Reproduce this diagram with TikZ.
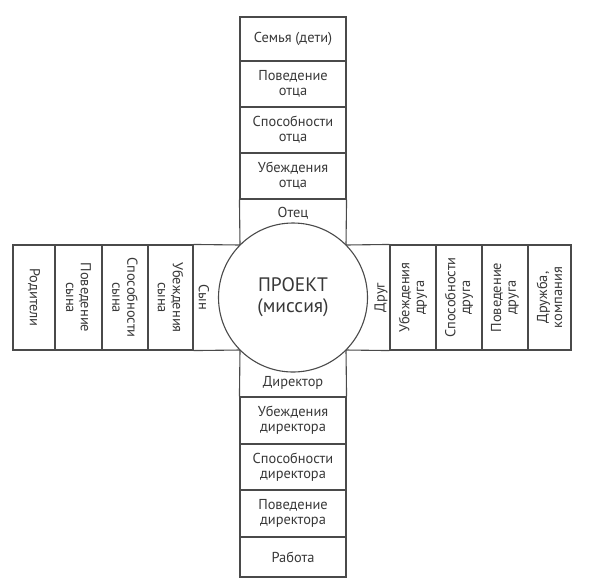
\documentclass[tikz,border=0pt]{standalone}
\usepackage{fontspec}
\setmainfont{PT Sans}
\definecolor{lc}{HTML}{4A4A4A}
\definecolor{tc}{HTML}{383838}
\begin{document}
\begin{tikzpicture}[x=1pt,y=-1pt,line width=1.1pt,
  lbl/.style={text=tc,font=\fontsize{14.4}{14.8}\selectfont,align=center,inner sep=0pt},
  cell/.style={lbl,draw=lc,line width=1.1pt},
  edge/.style={draw=lc,line width=1.1pt}]
\useasboundingbox (0,0) rectangle (591,582);
% top column
\node[cell,minimum width=106pt,minimum height=44pt] (fam) at (293,39) {Семья (дети)};
\node[cell,minimum width=106pt,minimum height=46pt] (povO) at (293,84) {Поведение\\отца};
\node[cell,minimum width=106pt,minimum height=46pt] (spO) at (293,130) {Способности\\отца};
\node[cell,minimum width=106pt,minimum height=46pt] (ubO) at (293,176) {Убеждения\\отца};
\node[lbl] (otec) at (293,213) {Отец};
% left arm
\node[cell,rotate=-90,minimum width=105pt,minimum height=42pt] (rod) at (34,297.5) {Родители};
\node[cell,rotate=-90,minimum width=105pt,minimum height=47pt] (povS) at (78.5,297.5) {Поведение\\сына};
\node[cell,rotate=-90,minimum width=105pt,minimum height=46pt] (spS) at (125,297.5) {Способности\\сына};
\node[cell,rotate=-90,minimum width=105pt,minimum height=45pt] (ubS) at (170.5,297.5) {Убеждения\\сына};
\node[lbl,rotate=-90] (syn) at (204,297.5) {Сын};
% right arm
\node[lbl,rotate=90] (drug) at (381,297.5) {Друг};
\node[cell,rotate=90,minimum width=105pt,minimum height=46pt] (ubD) at (413,297.5) {Убеждения\\друга};
\node[cell,rotate=90,minimum width=105pt,minimum height=46pt] (spD) at (459,297.5) {Способности\\друга};
\node[cell,rotate=90,minimum width=105pt,minimum height=46pt] (povD) at (505,297.5) {Поведение\\друга};
\node[cell,rotate=90,minimum width=105pt,minimum height=43pt] (dr) at (549.5,297.5) {Дружба,\\компания};
% bottom column
\node[lbl] (dir) at (293,383) {Директор};
\node[cell,minimum width=106pt,minimum height=47pt] (ubR) at (293,420.5) {Убеждения\\директора};
\node[cell,minimum width=106pt,minimum height=46pt] (spR) at (293,467) {Способности\\директора};
\node[cell,minimum width=106pt,minimum height=47pt] (povR) at (293,513.5) {Поведение\\директора};
\node[cell,minimum width=106pt,minimum height=40pt] (rab) at (293,557) {Работа};
% inner cells
\coordinate (c1) at (240,245);
\coordinate (c2) at (346,245);
\coordinate (c3) at (346,350);
\coordinate (c4) at (240,350);
\draw[edge] (c1) -- (ubO.south west) (c2) -- (ubO.south east);
\draw[edge] (c1) -- (ubS.north west) (c4) -- (ubS.north east);
\draw[edge] (c2) -- (ubD.north east) (c3) -- (ubD.north west);
\draw[edge] (c4) -- (ubR.north west) (c3) -- (ubR.north east);
% centre circle
\node[circle,draw=lc,line width=1.1pt,fill=white,minimum size=149pt,inner sep=0pt,
  text=tc,font=\fontsize{19.5}{21}\selectfont,align=center] (proj) at (293,297.5) {ПРОЕКТ\\(миссия)};
\end{tikzpicture}
\end{document}
